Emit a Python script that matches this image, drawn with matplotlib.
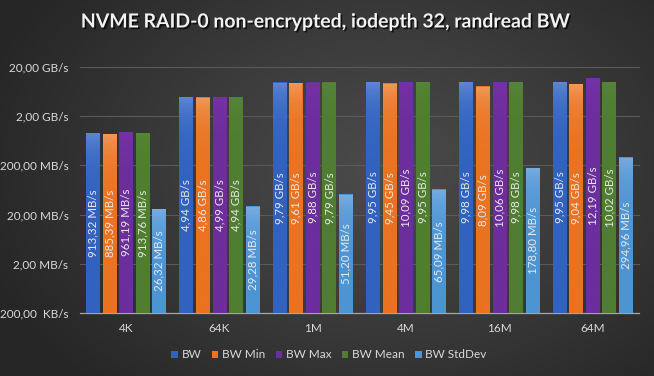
import numpy as np
import matplotlib
matplotlib.use("Agg")
import matplotlib.pyplot as plt
import matplotlib.patheffects as pe
from matplotlib.patches import Patch
from matplotlib.colors import LinearSegmentedColormap

plt.rcParams['font.family'] = ['Lato', 'DejaVu Sans']

# values in MB/s
block_sizes = ['4K', '64K', '1M', '4M', '16M', '64M']
bw = [913.32, 4940, 9790, 9950, 9980, 9950]
bw_min = [885.39, 4860, 9610, 9450, 8090, 9040]
bw_max = [961.19, 4990, 9880, 10090, 10060, 12190]
bw_mean = [913.76, 4940, 9790, 9950, 9980, 10020]
bw_stddev = [26.32, 29.28, 51.20, 65.09, 178.80, 294.96]

series_names = ['BW', 'BW Min', 'BW Max', 'BW Mean', 'BW StdDev']
series_values = [bw, bw_min, bw_max, bw_mean, bw_stddev]
# (top colour, bottom colour) of each bar gradient
series_colors = [('#6089d4', '#3162c0'),
                 ('#f39a5c', '#ea7220'),
                 ('#7632a6', '#6c2e9c'),
                 ('#558536', '#4f7d31'),
                 ('#79aee2', '#4d94d3')]

ytick_vals = [0.2, 2, 20, 200, 2000, 20000]
ytick_labels = ['200,00  KB/s', '2,00 MB/s', '20,00 MB/s', '200,00 MB/s', '2,00 GB/s', '20,00 GB/s']


def fmt_label(v):
    if v >= 1000:
        return f"{v / 1000:.2f}".replace('.', ',') + " GB/s"
    return f"{v:.2f}".replace('.', ',') + " MB/s"


fig = plt.figure(figsize=(6.54, 3.76), dpi=100)

# radial gradient background
bg = fig.add_axes([0, 0, 1, 1], zorder=-10)
yy, xx = np.mgrid[0:376, 0:654]
r = np.sqrt(((xx - 380) / 420.0) ** 2 + ((yy - 170) / 300.0) ** 2)
r = np.clip(r, 0, 1)
bg_cmap = LinearSegmentedColormap.from_list('bg', ['#4b4b4b', '#3a3a3a', '#262626'])
bg.imshow(r, cmap=bg_cmap, aspect='auto', extent=[0, 1, 0, 1], vmin=0, vmax=1)
bg.axis('off')

ax = fig.add_axes([79.5 / 654, 63 / 376, 560 / 654, 246 / 376])
ax.set_facecolor('none')
ax.set_yscale('log')
ax.set_ylim(0.2, 20000)
ax.set_xlim(-0.5, len(block_sizes) - 0.5)

x = np.arange(len(block_sizes))
slot = 0.178
width = 0.15
grad = np.linspace(0, 1, 256).reshape(-1, 1)

handles = []
for i, (name, vals, cols) in enumerate(zip(series_names, series_values, series_colors)):
    pos = x + (i - 2) * slot
    bars = ax.bar(pos, vals, width=width, bottom=0.2, color=cols[1], zorder=3)
    cmap = LinearSegmentedColormap.from_list(name, [cols[1], cols[0]])
    for b, v in zip(bars, vals):
        im = ax.imshow(grad, cmap=cmap, aspect='auto', origin='lower',
                       extent=[b.get_x(), b.get_x() + width, 0.2, v], zorder=4)
        im.set_clip_path(b)
        ax.text(b.get_x() + width / 2, np.sqrt(0.2 * v), fmt_label(v), rotation=90,
                ha='center', va='center', color='#e8e8e8', fontsize=8.3, zorder=5)
    handles.append(Patch(facecolor=cols[1], label=name))

ax.set_xlim(-0.5, len(block_sizes) - 0.5)
ax.set_ylim(0.2, 20000)

ax.set_yticks(ytick_vals)
ax.set_yticklabels(ytick_labels)
ax.minorticks_off()
ax.set_xticks(x)
ax.set_xticklabels(block_sizes)
ax.tick_params(axis='both', length=0, colors='#d9d9d9', labelsize=8.5)
ax.tick_params(axis='y', pad=8)
ax.tick_params(axis='x', pad=7)
ax.grid(axis='y', color='#5a5a5a', linewidth=0.8, zorder=0)
for side in ['top', 'right', 'left']:
    ax.spines[side].set_visible(False)
ax.spines['bottom'].set_color('#a6a6a6')
ax.spines['bottom'].set_linewidth(0.9)

fig.text(0.5, 1 - 22 / 376, 'NVME RAID-0 non-encrypted, iodepth 32, randread BW',
         ha='center', va='center', color='#f2f2f2', fontsize=14, fontweight='bold',
         path_effects=[pe.SimplePatchShadow(offset=(1.2, -1.2), shadow_rgbFace='black', alpha=0.7),
                       pe.Normal()])

fig.legend(handles=handles, loc='center', bbox_to_anchor=(329 / 654, 21 / 376), ncol=5,
           frameon=False, fontsize=8.5, labelcolor='#d9d9d9', handlelength=0.55,
           handleheight=0.55, handletextpad=0.3, columnspacing=0.9)

fig.savefig('out.png', dpi=100)
